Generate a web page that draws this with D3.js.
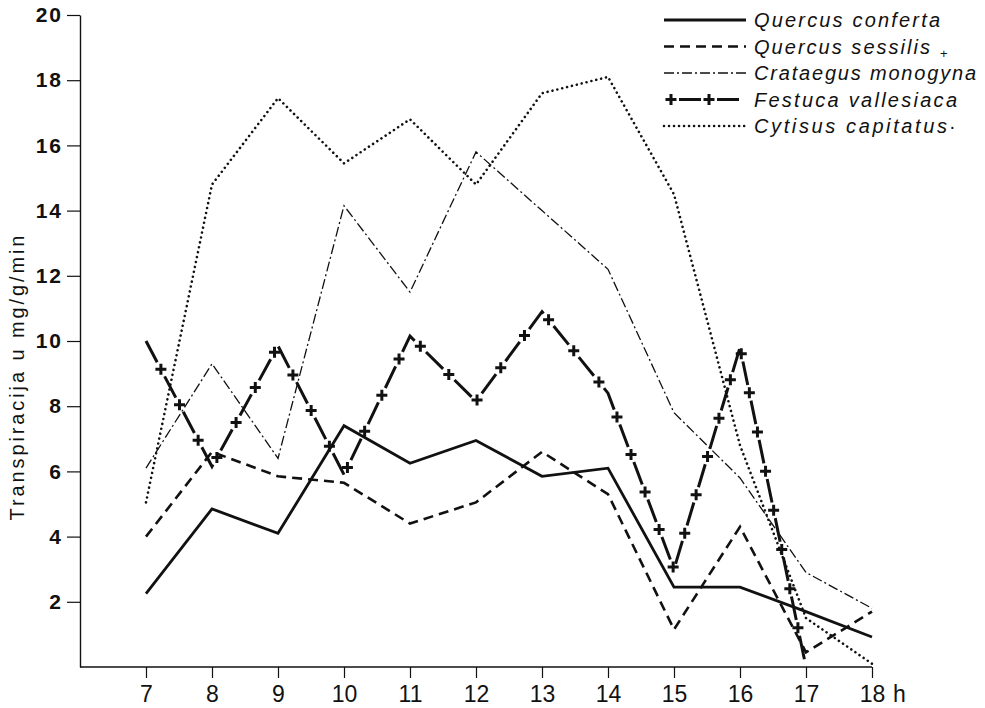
<!DOCTYPE html>
<html>
<head>
<meta charset="utf-8">
<script src="https://cdn.jsdelivr.net/npm/d3@7"></script>
<style>
  body { margin: 0; background: #fff; }
  svg { display: block; }
</style>
</head>
<body>
<svg id="chart" width="985" height="708"></svg>
<script>
// hours of the day (x axis) and y tick values
var hours = [7, 8, 9, 10, 11, 12, 13, 14, 15, 16, 17, 18];
var yTicks = [2, 4, 6, 8, 10, 12, 14, 16, 18, 20];

// transpiration in mg/g/min, one value per hour (null = not measured)
var quercusConferta = [2.25, 4.85, 4.1, 7.4, 6.25, 6.95, 5.85, 6.1, 2.45, 2.45, 1.7, 0.92];
var quercusSessilis = [4.0, 6.6, 5.85, 5.65, 4.4, 5.05, 6.6, 5.3, 1.15, 4.3, 0.45, 1.7];
var crataegusMonogyna = [6.1, 9.3, 6.4, 14.15, 11.5, 15.8, 14.0, 12.2, 7.8, 5.8, 2.9, 1.8];
var festucaVallesiaca = [10.0, 6.15, 9.85, 5.9, 10.15, 8.15, 10.9, 8.4, 3.0, 9.8, 0, null];
var cytisusCapitatus = [5.05, 14.8, 17.45, 15.45, 16.8, 14.8, 17.6, 18.1, 14.5, 6.8, 1.5, 0.1];

var seriesNames = ["Quercus conferta", "Quercus sessilis", "Crataegus monogyna",
                   "Festuca vallesiaca", "Cytisus capitatus"];
var seriesValues = [quercusConferta, quercusSessilis, crataegusMonogyna,
                    festucaVallesiaca, cytisusCapitatus];
var legendTextWidths = [186, 176, 222, 203, 193];

var ink = "#111";
var svg = d3.select("#chart");

// scales (hand drawn axes of the original)
var x = d3.scaleLinear().domain([7, 18]).range([146, 872]);
var y = d3.scaleLinear().domain([0, 20]).range([667, 15]);

// line style of each series
var styles = [
  { width: 2.8, dash: null, cap: "butt" },              // solid
  { width: 2.6, dash: "10 6", cap: "butt" },            // dashed
  { width: 1.3, dash: "10 3 2 3", cap: "butt" },        // dash-dot
  { width: 3, dash: "24 16", cap: "butt", cross: true },// dash + cross
  { width: 2.6, dash: "0.01 5", cap: "round" }          // dotted
];

// ---- axes ----
var yAxis = d3.axisLeft(y)
    .tickValues(yTicks)
    .tickSize(13)
    .tickSizeOuter(0)
    .tickPadding(4);

var yg = svg.append("g")
    .attr("transform", "translate(80,0)")
    .call(yAxis);
yg.select(".domain").attr("stroke", ink).attr("stroke-width", 1.4);
yg.selectAll(".tick line").attr("stroke", ink).attr("stroke-width", 1.2);
yg.selectAll(".tick text")
    .attr("fill", ink)
    .style("font-family", "'Liberation Sans', Arial, sans-serif")
    .style("font-size", "21px")
    .style("font-weight", "bold")
    .style("letter-spacing", "2px");

var xAxis = d3.axisBottom(x)
    .tickValues(hours)
    .tickSize(11)
    .tickSizeOuter(0)
    .tickPadding(8);

var xg = svg.append("g")
    .attr("transform", "translate(0,667)")
    .call(xAxis);
xg.select(".domain").remove();
xg.selectAll(".tick line").attr("stroke", ink).attr("stroke-width", 1.2);
xg.selectAll(".tick text")
    .attr("fill", ink)
    .style("font-family", "'Liberation Sans Narrow', 'Liberation Sans', sans-serif")
    .style("font-size", "23px");

// x axis line starts at the y axis
svg.append("line")
    .attr("x1", 80).attr("x2", x(18))
    .attr("y1", y(0)).attr("y2", y(0))
    .attr("stroke", ink).attr("stroke-width", 1.4);

// unit after the last hour
svg.append("text")
    .attr("x", x(18) + 21)
    .attr("y", y(0) + 35)
    .attr("fill", ink)
    .style("font-family", "'Liberation Sans Narrow', 'Liberation Sans', sans-serif")
    .style("font-size", "23px")
    .text("h");

// y axis title
svg.append("text")
    .attr("transform", "translate(24,378) rotate(-90)")
    .attr("text-anchor", "middle")
    .attr("textLength", 285)
    .attr("lengthAdjust", "spacing")
    .attr("fill", ink)
    .style("font-family", "'Liberation Sans', Arial, sans-serif")
    .style("font-size", "20px")
    .text("Transpiracija u mg/g/min");

// ---- lines ----
var line = d3.line()
    .defined(function(d) { return d != null; })
    .x(function(d, i) { return x(hours[i]); })
    .y(function(d) { return y(d); });

// puts a cross in the middle of every gap of a dashed path
function addCrosses(g, pathNode, dash, gap, offset) {
  var total = pathNode.getTotalLength();
  var period = dash + gap;
  var first = dash + gap / 2 - offset;
  while (first < 0) first += period;
  for (var l = first; l < total; l += period) {
    var p = pathNode.getPointAtLength(l);
    g.append("path")
        .attr("d", "M-5.5,0H5.5M0,-5.5V5.5")
        .attr("transform", "translate(" + p.x + "," + p.y + ")")
        .attr("stroke", ink)
        .attr("stroke-width", 3);
  }
}

var linesG = svg.append("g").attr("fill", "none");
seriesValues.forEach(function(vals, i) {
  var st = styles[i];
  var p = linesG.append("path")
      .attr("d", line(vals))
      .attr("stroke", ink)
      .attr("stroke-width", st.width)
      .attr("stroke-linejoin", "miter")
      .attr("stroke-linecap", st.cap)
      .attr("stroke-dasharray", st.dash);
  if (st.cross) addCrosses(linesG, p.node(), 24, 16, 0);
});

// ---- legend ----
var legend = svg.append("g");
var rowY = [20, 46.5, 73, 99.5, 126];

seriesNames.forEach(function(name, i) {
  var st = styles[i];
  var lp = legend.append("path")
      .attr("d", "M664," + rowY[i] + "H746")
      .attr("fill", "none")
      .attr("stroke", ink)
      .attr("stroke-width", st.width)
      .attr("stroke-linecap", st.cap)
      .attr("stroke-dasharray", st.cross ? "22 16" : st.dash)
      .attr("stroke-dashoffset", st.cross ? 23 : 0);
  if (st.cross) addCrosses(legend, lp.node(), 22, 16, 23);

  legend.append("text")
      .attr("x", 754)
      .attr("y", rowY[i] + 7)
      .attr("textLength", legendTextWidths[i])
      .attr("lengthAdjust", "spacing")
      .attr("fill", ink)
      .style("font-family", "'Liberation Sans', Arial, sans-serif")
      .style("font-style", "italic")
      .style("font-size", "20px")
      .text(name);
});

// small marks printed next to the legend names
legend.append("text")
    .attr("x", 940).attr("y", 58)
    .attr("fill", ink)
    .style("font-family", "'Liberation Sans', Arial, sans-serif")
    .style("font-size", "13px")
    .text("+");
legend.append("text")
    .attr("x", 949).attr("y", rowY[4] + 7)
    .attr("fill", ink)
    .style("font-family", "'Liberation Sans', Arial, sans-serif")
    .style("font-size", "20px")
    .text("·");
</script>
</body>
</html>
